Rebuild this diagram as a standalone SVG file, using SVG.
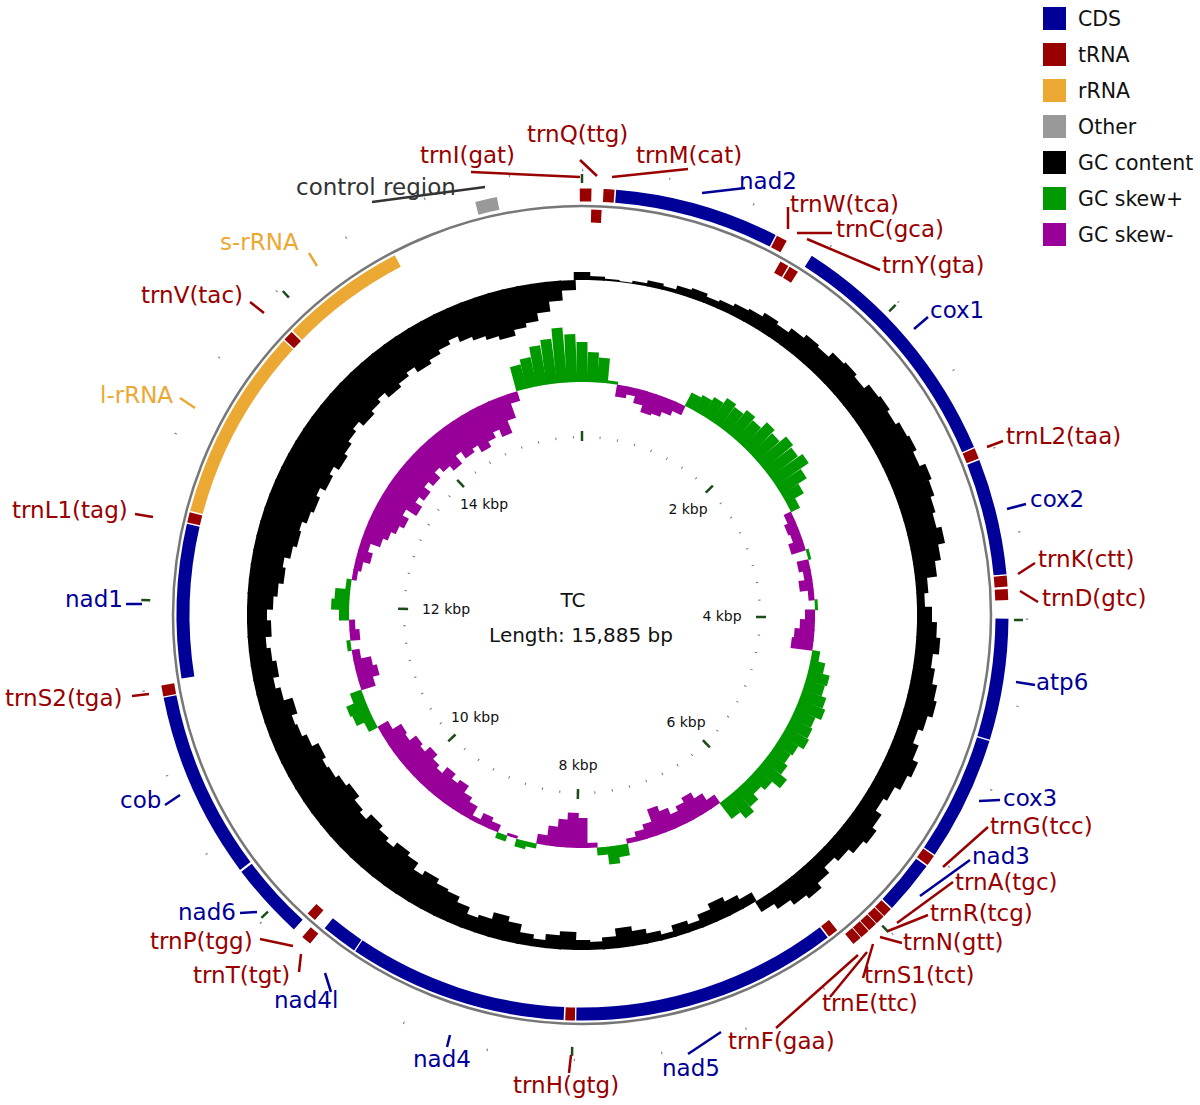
<svg xmlns="http://www.w3.org/2000/svg" width="1200" height="1105" viewBox="0 0 1200 1105">
<style>
text{font-family:"DejaVu Sans","Liberation Sans",sans-serif;font-size:23px}
.t{fill:#990000}.c{fill:#000099}.r{fill:#eba934}.o{fill:#333}
.lt{stroke:#990000;stroke-width:2.5}.lc{stroke:#000099;stroke-width:2.5}.lr{stroke:#eba934;stroke-width:2.5}.lo{stroke:#333;stroke-width:2.5}
.fo{fill:none;stroke-width:13}
.k{font-size:14px;fill:#111;text-anchor:middle}
.g path{stroke:#000;stroke-width:16.5}
.sp{stroke:#009900;stroke-width:11}.sm{stroke:#990099;stroke-width:11}
.tk{stroke:#1b4d1b;stroke-width:2.5}
.lg{font-size:20.5px;fill:#111}
</style>
<rect width="1200" height="1105" fill="#fff"/>
<g id="gc-content" class="g">
<path d="M582 280V272" transform="rotate(0 582 615)"/><path d="M582 280V276" transform="rotate(2.5 582 615)"/><path d="M582 280V278" transform="rotate(5 582 615)"/><path d="M582 280V279" transform="rotate(7.5 582 615)"/>
<path d="M582 280V277" transform="rotate(10 582 615)"/><path d="M582 280V274" transform="rotate(12.5 582 615)"/><path d="M582 280V276" transform="rotate(15 582 615)"/><path d="M582 280V272" transform="rotate(17.5 582 615)"/><path d="M582 280V270" transform="rotate(20 582 615)"/><path d="M582 280V273" transform="rotate(22.5 582 615)"/><path d="M582 280V271" transform="rotate(25 582 615)"/><path d="M582 280V268" transform="rotate(27.5 582 615)"/>
<path d="M582 280V266" transform="rotate(30 582 615)"/><path d="M582 280V262" transform="rotate(32.5 582 615)"/><path d="M582 280V265" transform="rotate(35 582 615)"/><path d="M582 280V260" transform="rotate(37.5 582 615)"/><path d="M582 280V256" transform="rotate(40 582 615)"/><path d="M582 280V258" transform="rotate(42.5 582 615)"/><path d="M582 280V252" transform="rotate(45 582 615)"/><path d="M582 280V250" transform="rotate(47.5 582 615)"/><path d="M582 280V253" transform="rotate(50 582 615)"/><path d="M582 280V247" transform="rotate(52.5 582 615)"/><path d="M582 280V245" transform="rotate(55 582 615)"/><path d="M582 280V248" transform="rotate(57.5 582 615)"/>
<path d="M582 280V244" transform="rotate(60 582 615)"/><path d="M582 280V242" transform="rotate(62.5 582 615)"/><path d="M582 280V246" transform="rotate(65 582 615)"/><path d="M582 280V240" transform="rotate(67.5 582 615)"/><path d="M582 280V243" transform="rotate(70 582 615)"/><path d="M582 280V247" transform="rotate(72.5 582 615)"/><path d="M582 280V250" transform="rotate(75 582 615)"/><path d="M582 280V245" transform="rotate(77.5 582 615)"/><path d="M582 280V252" transform="rotate(80 582 615)"/><path d="M582 280V258" transform="rotate(82.5 582 615)"/><path d="M582 280V268" transform="rotate(85 582 615)"/><path d="M582 280V272" transform="rotate(87.5 582 615)"/>
<path d="M582 280V265" transform="rotate(90 582 615)"/><path d="M582 280V260" transform="rotate(92.5 582 615)"/><path d="M582 280V256" transform="rotate(95 582 615)"/><path d="M582 280V262" transform="rotate(97.5 582 615)"/><path d="M582 280V258" transform="rotate(100 582 615)"/><path d="M582 280V253" transform="rotate(102.5 582 615)"/><path d="M582 280V250" transform="rotate(105 582 615)"/><path d="M582 280V255" transform="rotate(107.5 582 615)"/><path d="M582 280V260" transform="rotate(110 582 615)"/><path d="M582 280V254" transform="rotate(112.5 582 615)"/><path d="M582 280V248" transform="rotate(115 582 615)"/><path d="M582 280V252" transform="rotate(117.5 582 615)"/>
<path d="M582 280V258" transform="rotate(120 582 615)"/><path d="M582 280V262" transform="rotate(122.5 582 615)"/><path d="M582 280V255" transform="rotate(125 582 615)"/><path d="M582 280V250" transform="rotate(127.5 582 615)"/><path d="M582 280V254" transform="rotate(130 582 615)"/><path d="M582 280V260" transform="rotate(132.5 582 615)"/><path d="M582 280V265" transform="rotate(135 582 615)"/><path d="M582 280V258" transform="rotate(137.5 582 615)"/><path d="M582 280V252" transform="rotate(140 582 615)"/><path d="M582 280V256" transform="rotate(142.5 582 615)"/><path d="M582 280V262" transform="rotate(145 582 615)"/><path d="M582 280V268" transform="rotate(147.5 582 615)"/>
<path d="M582 280V290" transform="rotate(150 582 615)"/><path d="M582 280V295" transform="rotate(152.5 582 615)"/><path d="M582 280V300" transform="rotate(155 582 615)"/><path d="M582 280V294" transform="rotate(157.5 582 615)"/><path d="M582 280V288" transform="rotate(160 582 615)"/><path d="M582 280V292" transform="rotate(162.5 582 615)"/><path d="M582 280V286" transform="rotate(165 582 615)"/><path d="M582 280V290" transform="rotate(167.5 582 615)"/><path d="M582 280V295" transform="rotate(170 582 615)"/><path d="M582 280V300" transform="rotate(172.5 582 615)"/><path d="M582 280V292" transform="rotate(175 582 615)"/><path d="M582 280V288" transform="rotate(177.5 582 615)"/>
<path d="M582 280V290" transform="rotate(180 582 615)"/><path d="M582 280V298" transform="rotate(182.5 582 615)"/><path d="M582 280V294" transform="rotate(185 582 615)"/><path d="M582 280V288" transform="rotate(187.5 582 615)"/><path d="M582 280V292" transform="rotate(190 582 615)"/><path d="M582 280V300" transform="rotate(192.5 582 615)"/><path d="M582 280V305" transform="rotate(195 582 615)"/><path d="M582 280V298" transform="rotate(197.5 582 615)"/><path d="M582 280V295" transform="rotate(200 582 615)"/><path d="M582 280V302" transform="rotate(202.5 582 615)"/><path d="M582 280V308" transform="rotate(205 582 615)"/><path d="M582 280V310" transform="rotate(207.5 582 615)"/>
<path d="M582 280V315" transform="rotate(210 582 615)"/><path d="M582 280V310" transform="rotate(212.5 582 615)"/><path d="M582 280V318" transform="rotate(215 582 615)"/><path d="M582 280V322" transform="rotate(217.5 582 615)"/><path d="M582 280V316" transform="rotate(220 582 615)"/><path d="M582 280V320" transform="rotate(222.5 582 615)"/><path d="M582 280V325" transform="rotate(225 582 615)"/><path d="M582 280V318" transform="rotate(227.5 582 615)"/><path d="M582 280V322" transform="rotate(230 582 615)"/><path d="M582 280V328" transform="rotate(232.5 582 615)"/><path d="M582 280V324" transform="rotate(235 582 615)"/><path d="M582 280V320" transform="rotate(237.5 582 615)"/>
<path d="M582 280V318" transform="rotate(240 582 615)"/><path d="M582 280V322" transform="rotate(242.5 582 615)"/><path d="M582 280V315" transform="rotate(245 582 615)"/><path d="M582 280V310" transform="rotate(247.5 582 615)"/><path d="M582 280V308" transform="rotate(250 582 615)"/><path d="M582 280V314" transform="rotate(252.5 582 615)"/><path d="M582 280V305" transform="rotate(255 582 615)"/><path d="M582 280V300" transform="rotate(257.5 582 615)"/><path d="M582 280V306" transform="rotate(260 582 615)"/><path d="M582 280V302" transform="rotate(262.5 582 615)"/><path d="M582 280V298" transform="rotate(265 582 615)"/><path d="M582 280V304" transform="rotate(267.5 582 615)"/>
<path d="M582 280V300" transform="rotate(270 582 615)"/><path d="M582 280V306" transform="rotate(272.5 582 615)"/><path d="M582 280V310" transform="rotate(275 582 615)"/><path d="M582 280V315" transform="rotate(277.5 582 615)"/><path d="M582 280V312" transform="rotate(280 582 615)"/><path d="M582 280V318" transform="rotate(282.5 582 615)"/><path d="M582 280V322" transform="rotate(285 582 615)"/><path d="M582 280V320" transform="rotate(287.5 582 615)"/><path d="M582 280V325" transform="rotate(290 582 615)"/><path d="M582 280V328" transform="rotate(292.5 582 615)"/><path d="M582 280V324" transform="rotate(295 582 615)"/><path d="M582 280V330" transform="rotate(297.5 582 615)"/>
<path d="M582 280V326" transform="rotate(300 582 615)"/><path d="M582 280V332" transform="rotate(302.5 582 615)"/><path d="M582 280V328" transform="rotate(305 582 615)"/><path d="M582 280V324" transform="rotate(307.5 582 615)"/><path d="M582 280V320" transform="rotate(310 582 615)"/><path d="M582 280V326" transform="rotate(312.5 582 615)"/><path d="M582 280V322" transform="rotate(315 582 615)"/><path d="M582 280V318" transform="rotate(317.5 582 615)"/><path d="M582 280V324" transform="rotate(320 582 615)"/><path d="M582 280V320" transform="rotate(322.5 582 615)"/><path d="M582 280V316" transform="rotate(325 582 615)"/><path d="M582 280V322" transform="rotate(327.5 582 615)"/>
<path d="M582 280V318" transform="rotate(330 582 615)"/><path d="M582 280V314" transform="rotate(332.5 582 615)"/><path d="M582 280V310" transform="rotate(335 582 615)"/><path d="M582 280V316" transform="rotate(337.5 582 615)"/><path d="M582 280V320" transform="rotate(340 582 615)"/><path d="M582 280V324" transform="rotate(342.5 582 615)"/><path d="M582 280V328" transform="rotate(345 582 615)"/><path d="M582 280V322" transform="rotate(347.5 582 615)"/><path d="M582 280V318" transform="rotate(350 582 615)"/><path d="M582 280V310" transform="rotate(352.5 582 615)"/><path d="M582 280V300" transform="rotate(355 582 615)"/><path d="M582 280V290" transform="rotate(357.5 582 615)"/>
</g>
<g id="gc-skew">
<path class="sp" d="M582 382V342" transform="rotate(0 582 615)"/><path class="sp" d="M582 382V352" transform="rotate(2.5 582 615)"/><path class="sp" d="M582 382V357" transform="rotate(5 582 615)"/><path class="sp" d="M582 382V379" transform="rotate(7.5 582 615)"/>
<path class="sm" d="M582 382V394" transform="rotate(10 582 615)"/><path class="sm" d="M582 382V390" transform="rotate(12.5 582 615)"/><path class="sm" d="M582 382V397" transform="rotate(15 582 615)"/><path class="sm" d="M582 382V404" transform="rotate(17.5 582 615)"/><path class="sm" d="M582 382V402" transform="rotate(20 582 615)"/><path class="sm" d="M582 382V397" transform="rotate(22.5 582 615)"/><path class="sm" d="M582 382V392" transform="rotate(25 582 615)"/><path class="sp" d="M582 382V367" transform="rotate(27.5 582 615)"/>
<path class="sp" d="M582 382V364" transform="rotate(30 582 615)"/><path class="sp" d="M582 382V360" transform="rotate(32.5 582 615)"/><path class="sp" d="M582 382V354" transform="rotate(35 582 615)"/><path class="sp" d="M582 382V357" transform="rotate(37.5 582 615)"/><path class="sp" d="M582 382V352" transform="rotate(40 582 615)"/><path class="sp" d="M582 382V356" transform="rotate(42.5 582 615)"/><path class="sp" d="M582 382V348" transform="rotate(45 582 615)"/><path class="sp" d="M582 382V352" transform="rotate(47.5 582 615)"/><path class="sp" d="M582 382V344" transform="rotate(50 582 615)"/><path class="sp" d="M582 382V347" transform="rotate(52.5 582 615)"/><path class="sp" d="M582 382V342" transform="rotate(55 582 615)"/><path class="sp" d="M582 382V352" transform="rotate(57.5 582 615)"/>
<path class="sp" d="M582 382V362" transform="rotate(60 582 615)"/><path class="sp" d="M582 382V372" transform="rotate(62.5 582 615)"/><path class="sm" d="M582 382V390" transform="rotate(65 582 615)"/><path class="sm" d="M582 382V394" transform="rotate(67.5 582 615)"/><path class="sm" d="M582 382V392" transform="rotate(70 582 615)"/><path class="sm" d="M582 382V397" transform="rotate(72.5 582 615)"/><path class="sp" d="M582 382V379" transform="rotate(75 582 615)"/><path class="sm" d="M582 382V394" transform="rotate(77.5 582 615)"/><path class="sm" d="M582 382V390" transform="rotate(80 582 615)"/><path class="sm" d="M582 382V396" transform="rotate(82.5 582 615)"/><path class="sm" d="M582 382V388" transform="rotate(85 582 615)"/><path class="sp" d="M582 382V379" transform="rotate(87.5 582 615)"/>
<path class="sm" d="M582 382V392" transform="rotate(90 582 615)"/><path class="sm" d="M582 382V397" transform="rotate(92.5 582 615)"/><path class="sm" d="M582 382V402" transform="rotate(95 582 615)"/><path class="sm" d="M582 382V404" transform="rotate(97.5 582 615)"/><path class="sp" d="M582 382V374" transform="rotate(100 582 615)"/><path class="sp" d="M582 382V367" transform="rotate(102.5 582 615)"/><path class="sp" d="M582 382V360" transform="rotate(105 582 615)"/><path class="sp" d="M582 382V362" transform="rotate(107.5 582 615)"/><path class="sp" d="M582 382V357" transform="rotate(110 582 615)"/><path class="sp" d="M582 382V354" transform="rotate(112.5 582 615)"/><path class="sp" d="M582 382V360" transform="rotate(115 582 615)"/><path class="sp" d="M582 382V358" transform="rotate(117.5 582 615)"/>
<path class="sp" d="M582 382V356" transform="rotate(120 582 615)"/><path class="sp" d="M582 382V362" transform="rotate(122.5 582 615)"/><path class="sp" d="M582 382V364" transform="rotate(125 582 615)"/><path class="sp" d="M582 382V360" transform="rotate(127.5 582 615)"/><path class="sp" d="M582 382V352" transform="rotate(130 582 615)"/><path class="sp" d="M582 382V362" transform="rotate(132.5 582 615)"/><path class="sp" d="M582 382V367" transform="rotate(135 582 615)"/><path class="sp" d="M582 382V360" transform="rotate(137.5 582 615)"/><path class="sp" d="M582 382V354" transform="rotate(140 582 615)"/><path class="sp" d="M582 382V362" transform="rotate(142.5 582 615)"/><path class="sm" d="M582 382V392" transform="rotate(145 582 615)"/><path class="sm" d="M582 382V400" transform="rotate(147.5 582 615)"/>
<path class="sm" d="M582 382V407" transform="rotate(150 582 615)"/><path class="sm" d="M582 382V402" transform="rotate(152.5 582 615)"/><path class="sm" d="M582 382V397" transform="rotate(155 582 615)"/><path class="sm" d="M582 382V404" transform="rotate(157.5 582 615)"/><path class="sm" d="M582 382V410" transform="rotate(160 582 615)"/><path class="sm" d="M582 382V397" transform="rotate(162.5 582 615)"/><path class="sm" d="M582 382V392" transform="rotate(165 582 615)"/><path class="sm" d="M582 382V387" transform="rotate(167.5 582 615)"/><path class="sp" d="M582 382V370" transform="rotate(170 582 615)"/><path class="sp" d="M582 382V364" transform="rotate(172.5 582 615)"/><path class="sp" d="M582 382V374" transform="rotate(175 582 615)"/><path class="sm" d="M582 382V387" transform="rotate(177.5 582 615)"/>
<path class="sm" d="M582 382V412" transform="rotate(180 582 615)"/><path class="sm" d="M582 382V417" transform="rotate(182.5 582 615)"/><path class="sm" d="M582 382V410" transform="rotate(185 582 615)"/><path class="sm" d="M582 382V402" transform="rotate(187.5 582 615)"/><path class="sm" d="M582 382V392" transform="rotate(190 582 615)"/><path class="sp" d="M582 382V377" transform="rotate(192.5 582 615)"/><path class="sp" d="M582 382V374" transform="rotate(195 582 615)"/><path class="sm" d="M582 382V385" transform="rotate(197.5 582 615)"/><path class="sp" d="M582 382V376" transform="rotate(200 582 615)"/><path class="sm" d="M582 382V390" transform="rotate(202.5 582 615)"/><path class="sm" d="M582 382V394" transform="rotate(205 582 615)"/><path class="sm" d="M582 382V387" transform="rotate(207.5 582 615)"/>
<path class="sm" d="M582 382V397" transform="rotate(210 582 615)"/><path class="sm" d="M582 382V402" transform="rotate(212.5 582 615)"/><path class="sm" d="M582 382V410" transform="rotate(215 582 615)"/><path class="sm" d="M582 382V406" transform="rotate(217.5 582 615)"/><path class="sm" d="M582 382V412" transform="rotate(220 582 615)"/><path class="sm" d="M582 382V404" transform="rotate(222.5 582 615)"/><path class="sm" d="M582 382V408" transform="rotate(225 582 615)"/><path class="sm" d="M582 382V414" transform="rotate(227.5 582 615)"/><path class="sm" d="M582 382V407" transform="rotate(230 582 615)"/><path class="sm" d="M582 382V410" transform="rotate(232.5 582 615)"/><path class="sm" d="M582 382V402" transform="rotate(235 582 615)"/><path class="sm" d="M582 382V404" transform="rotate(237.5 582 615)"/>
<path class="sm" d="M582 382V394" transform="rotate(240 582 615)"/><path class="sp" d="M582 382V372" transform="rotate(242.5 582 615)"/><path class="sp" d="M582 382V364" transform="rotate(245 582 615)"/><path class="sp" d="M582 382V362" transform="rotate(247.5 582 615)"/><path class="sp" d="M582 382V370" transform="rotate(250 582 615)"/><path class="sm" d="M582 382V397" transform="rotate(252.5 582 615)"/><path class="sm" d="M582 382V404" transform="rotate(255 582 615)"/><path class="sm" d="M582 382V400" transform="rotate(257.5 582 615)"/><path class="sm" d="M582 382V390" transform="rotate(260 582 615)"/><path class="sp" d="M582 382V378" transform="rotate(262.5 582 615)"/><path class="sm" d="M582 382V392" transform="rotate(265 582 615)"/><path class="sm" d="M582 382V388" transform="rotate(267.5 582 615)"/>
<path class="sp" d="M582 382V372" transform="rotate(270 582 615)"/><path class="sp" d="M582 382V364" transform="rotate(272.5 582 615)"/><path class="sp" d="M582 382V367" transform="rotate(275 582 615)"/><path class="sp" d="M582 382V377" transform="rotate(277.5 582 615)"/><path class="sm" d="M582 382V387" transform="rotate(280 582 615)"/><path class="sm" d="M582 382V390" transform="rotate(282.5 582 615)"/><path class="sm" d="M582 382V397" transform="rotate(285 582 615)"/><path class="sm" d="M582 382V392" transform="rotate(287.5 582 615)"/><path class="sm" d="M582 382V402" transform="rotate(290 582 615)"/><path class="sm" d="M582 382V407" transform="rotate(292.5 582 615)"/><path class="sm" d="M582 382V412" transform="rotate(295 582 615)"/><path class="sm" d="M582 382V417" transform="rotate(297.5 582 615)"/>
<path class="sm" d="M582 382V410" transform="rotate(300 582 615)"/><path class="sm" d="M582 382V422" transform="rotate(302.5 582 615)"/><path class="sm" d="M582 382V414" transform="rotate(305 582 615)"/><path class="sm" d="M582 382V420" transform="rotate(307.5 582 615)"/><path class="sm" d="M582 382V412" transform="rotate(310 582 615)"/><path class="sm" d="M582 382V418" transform="rotate(312.5 582 615)"/><path class="sm" d="M582 382V410" transform="rotate(315 582 615)"/><path class="sm" d="M582 382V416" transform="rotate(317.5 582 615)"/><path class="sm" d="M582 382V422" transform="rotate(320 582 615)"/><path class="sm" d="M582 382V412" transform="rotate(322.5 582 615)"/><path class="sm" d="M582 382V420" transform="rotate(325 582 615)"/><path class="sm" d="M582 382V416" transform="rotate(327.5 582 615)"/>
<path class="sm" d="M582 382V424" transform="rotate(330 582 615)"/><path class="sm" d="M582 382V418" transform="rotate(332.5 582 615)"/><path class="sm" d="M582 382V412" transform="rotate(335 582 615)"/><path class="sm" d="M582 382V420" transform="rotate(337.5 582 615)"/><path class="sm" d="M582 382V407" transform="rotate(340 582 615)"/><path class="sm" d="M582 382V392" transform="rotate(342.5 582 615)"/><path class="sp" d="M582 382V357" transform="rotate(345 582 615)"/><path class="sp" d="M582 382V352" transform="rotate(347.5 582 615)"/><path class="sp" d="M582 382V342" transform="rotate(350 582 615)"/><path class="sp" d="M582 382V337" transform="rotate(352.5 582 615)"/><path class="sp" d="M582 382V327" transform="rotate(355 582 615)"/><path class="sp" d="M582 382V334" transform="rotate(357.5 582 615)"/>
</g>
<g id="scale">
<circle cx="582" cy="615" r="178" fill="none" stroke="#777" stroke-width="2.5" stroke-dasharray="1 16.6" transform="rotate(-90 582 615)"/>
<circle cx="582" cy="615" r="445" fill="none" stroke="#888" stroke-width="2.5" stroke-dasharray="1.2 86.6" transform="rotate(-90 582 615)"/>
<g class="tk">
<path d="M582 431V441"/><path d="M582 431V441" transform="rotate(45.33 582 615)"/><path d="M582 431V441" transform="rotate(90.65 582 615)"/><path d="M582 431V441" transform="rotate(135.98 582 615)"/><path d="M582 431V441" transform="rotate(181.3 582 615)"/><path d="M582 431V441" transform="rotate(226.63 582 615)"/><path d="M582 431V441" transform="rotate(271.96 582 615)"/><path d="M582 431V441" transform="rotate(317.28 582 615)"/>
<path d="M582 174V183"/><path d="M582 174V183" transform="rotate(45.33 582 615)"/><path d="M582 174V183" transform="rotate(90.65 582 615)"/><path d="M582 174V183" transform="rotate(135.98 582 615)"/><path d="M582 174V183" transform="rotate(181.3 582 615)"/><path d="M582 174V183" transform="rotate(226.63 582 615)"/><path d="M582 174V183" transform="rotate(271.96 582 615)"/><path d="M582 174V183" transform="rotate(317.28 582 615)"/>
</g>
<text class="k" x="688" y="514">2 kbp</text><text class="k" x="722" y="621">4 kbp</text><text class="k" x="686" y="727">6 kbp</text><text class="k" x="578" y="770">8 kbp</text><text class="k" x="475" y="722">10 kbp</text><text class="k" x="446" y="614">12 kbp</text><text class="k" x="484" y="509">14 kbp</text>
<circle cx="582" cy="615" r="409" fill="none" stroke="#777" stroke-width="2.5"/>
</g>
<text x="573" y="607" text-anchor="middle" style="font-size:20px" fill="#111">TC</text>
<text x="581" y="642" text-anchor="middle" style="font-size:20px" fill="#111">Length: 15,885 bp</text>
<g id="connectors">
<line class="lo" x1="372" y1="202" x2="485" y2="187"/>
<line class="lt" x1="471" y1="172" x2="580" y2="177"/>
<line class="lt" x1="580" y1="160" x2="597" y2="176"/>
<line class="lt" x1="612" y1="177" x2="688" y2="169"/>
<line class="lc" x1="702" y1="193" x2="745" y2="188"/>
<line class="lt" x1="788" y1="207" x2="788" y2="229"/>
<line class="lt" x1="797" y1="233" x2="832" y2="233"/>
<line class="lt" x1="807" y1="239" x2="880" y2="270"/>
<line class="lc" x1="914" y1="329" x2="928" y2="317"/>
<line class="lt" x1="987" y1="447" x2="1003" y2="441"/>
<line class="lc" x1="1007" y1="509" x2="1026" y2="504"/>
<line class="lt" x1="1018" y1="574" x2="1035" y2="563"/>
<line class="lt" x1="1020" y1="591" x2="1038" y2="602"/>
<line class="lc" x1="1016" y1="682" x2="1035" y2="685"/>
<line class="lc" x1="979" y1="801" x2="1000" y2="800"/>
<line class="lt" x1="943" y1="867" x2="988" y2="827"/>
<line class="lc" x1="920" y1="896" x2="970" y2="860"/>
<line class="lt" x1="897" y1="923" x2="953" y2="882"/>
<line class="lt" x1="888" y1="931" x2="928" y2="915"/>
<line class="lt" x1="880" y1="937" x2="902" y2="943"/>
<line class="lt" x1="873" y1="944" x2="863" y2="978"/>
<line class="lt" x1="867" y1="952" x2="830" y2="997"/>
<line class="lt" x1="858" y1="955" x2="776" y2="1028"/>
<line class="lc" x1="721" y1="1032" x2="688" y2="1054"/>
<line class="lt" x1="571" y1="1055" x2="569" y2="1073"/>
<line class="lc" x1="450" y1="1035" x2="447" y2="1047"/>
<line class="lc" x1="325" y1="973" x2="331" y2="992"/>
<line class="lt" x1="301" y1="954" x2="299" y2="972"/>
<line class="lt" x1="260" y1="939" x2="293" y2="946"/>
<line class="lc" x1="240" y1="913" x2="257" y2="912"/>
<line class="lc" x1="165" y1="805" x2="180" y2="795"/>
<line class="lt" x1="132" y1="696" x2="149" y2="694"/>
<line class="lc" x1="126" y1="604" x2="142" y2="604"/>
<line class="lt" x1="135" y1="514" x2="153" y2="517"/>
<line class="lr" x1="180" y1="398" x2="195" y2="408"/>
<line class="lt" x1="250" y1="302" x2="264" y2="313"/>
<line class="lr" x1="309" y1="253" x2="317" y2="266"/>
</g>
<g id="control-region"><circle class="fo" cx="582" cy="615" r="420" stroke="#999" stroke-dasharray="22 3000" transform="rotate(255.5 582 615)"/><text class="o" x="296" y="195">control region</text></g>
<g id="trnI"><circle class="fo" cx="582" cy="615" r="420" stroke="#990000" stroke-dasharray="11.7 3000" transform="rotate(-90.3 582 615)"/><text class="t" x="420" y="163">trnI(gat)</text></g>
<g id="trnQ"><circle class="fo" cx="582" cy="615" r="399" stroke="#990000" stroke-dasharray="10.4 3000" transform="rotate(-88.7 582 615)"/><text class="t" x="527" y="142">trnQ(ttg)</text></g>
<g id="trnM"><circle class="fo" cx="582" cy="615" r="420" stroke="#990000" stroke-dasharray="11 3000" transform="rotate(-87.1 582 615)"/><text class="t" x="636" y="163">trnM(cat)</text></g>
<g id="nad2"><circle class="fo" cx="582" cy="615" r="420" stroke="#000099" stroke-dasharray="164.2 3000" transform="rotate(-85.4 582 615)"/><text class="c" x="739" y="189">nad2</text></g>
<g id="trnW"><circle class="fo" cx="582" cy="615" r="420" stroke="#990000" stroke-dasharray="11 3000" transform="rotate(-62.8 582 615)"/><text class="t" x="790" y="212">trnW(tca)</text></g>
<g id="trnC"><circle class="fo" cx="582" cy="615" r="399" stroke="#990000" stroke-dasharray="9.1 3000" transform="rotate(-60.7 582 615)"/><text class="t" x="836" y="237">trnC(gca)</text></g>
<g id="trnY"><circle class="fo" cx="582" cy="615" r="399" stroke="#990000" stroke-dasharray="9.7 3000" transform="rotate(-59.2 582 615)"/><text class="t" x="882" y="273">trnY(gta)</text></g>
<g id="cox1"><circle class="fo" cx="582" cy="615" r="420" stroke="#000099" stroke-dasharray="250.7 3000" transform="rotate(-57.4 582 615)"/><text class="c" x="930" y="318">cox1</text></g>
<g id="trnL2"><circle class="fo" cx="582" cy="615" r="420" stroke="#990000" stroke-dasharray="11 3000" transform="rotate(-23 582 615)"/><text class="t" x="1006" y="444">trnL2(taa)</text></g>
<g id="cox2"><circle class="fo" cx="582" cy="615" r="420" stroke="#000099" stroke-dasharray="115.8 3000" transform="rotate(-21.3 582 615)"/><text class="c" x="1030" y="507">cox2</text></g>
<g id="trnK"><circle class="fo" cx="582" cy="615" r="420" stroke="#990000" stroke-dasharray="11 3000" transform="rotate(-5.3 582 615)"/><text class="t" x="1038" y="567">trnK(ctt)</text></g>
<g id="trnD"><circle class="fo" cx="582" cy="615" r="420" stroke="#990000" stroke-dasharray="11 3000" transform="rotate(-3.5 582 615)"/><text class="t" x="1042" y="606">trnD(gtc)</text></g>
<g id="atp6"><circle class="fo" cx="582" cy="615" r="420" stroke="#000099" stroke-dasharray="121 3000" transform="rotate(0.5 582 615)"/><text class="c" x="1036" y="690">atp6</text></g>
<g id="cox3"><circle class="fo" cx="582" cy="615" r="420" stroke="#000099" stroke-dasharray="124.6 3000" transform="rotate(17.2 582 615)"/><text class="c" x="1003" y="806">cox3</text></g>
<g id="trnG"><circle class="fo" cx="582" cy="615" r="420" stroke="#990000" stroke-dasharray="11 3000" transform="rotate(34.4 582 615)"/><text class="t" x="990" y="834">trnG(tcc)</text></g>
<g id="nad3"><circle class="fo" cx="582" cy="615" r="420" stroke="#000099" stroke-dasharray="53.5 3000" transform="rotate(36.1 582 615)"/><text class="c" x="972" y="864">nad3</text></g>
<g id="trnA"><circle class="fo" cx="582" cy="615" r="420" stroke="#990000" stroke-dasharray="9.5 3000" transform="rotate(43.6 582 615)"/><text class="t" x="955" y="890">trnA(tgc)</text></g>
<g id="trnR"><circle class="fo" cx="582" cy="615" r="420" stroke="#990000" stroke-dasharray="9.5 3000" transform="rotate(45 582 615)"/><text class="t" x="930" y="921">trnR(tcg)</text></g>
<g id="trnN"><circle class="fo" cx="582" cy="615" r="420" stroke="#990000" stroke-dasharray="9.5 3000" transform="rotate(46.4 582 615)"/><text class="t" x="903" y="950">trnN(gtt)</text></g>
<g id="trnS1"><circle class="fo" cx="582" cy="615" r="420" stroke="#990000" stroke-dasharray="9.5 3000" transform="rotate(47.8 582 615)"/><text class="t" x="864" y="983">trnS1(tct)</text></g>
<g id="trnE"><circle class="fo" cx="582" cy="615" r="420" stroke="#990000" stroke-dasharray="9.5 3000" transform="rotate(49.2 582 615)"/><text class="t" x="822" y="1011">trnE(ttc)</text></g>
<g id="trnF"><circle class="fo" cx="582" cy="615" r="399" stroke="#990000" stroke-dasharray="10.4 3000" transform="rotate(51 582 615)"/><text class="t" x="728" y="1049">trnF(gaa)</text></g>
<g id="nad5"><circle class="fo" cx="582" cy="615" r="399" stroke="#000099" stroke-dasharray="265.3 3000" transform="rotate(52.7 582 615)"/><text class="c" x="662" y="1076">nad5</text></g>
<g id="trnH"><circle class="fo" cx="582" cy="615" r="399" stroke="#990000" stroke-dasharray="9.7 3000" transform="rotate(91 582 615)"/><text class="t" x="513" y="1093">trnH(gtg)</text></g>
<g id="nad4"><circle class="fo" cx="582" cy="615" r="399" stroke="#000099" stroke-dasharray="218.7 3000" transform="rotate(92.6 582 615)"/><text class="c" x="413" y="1067">nad4</text></g>
<g id="nad4l"><circle class="fo" cx="582" cy="615" r="399" stroke="#000099" stroke-dasharray="36.2 3000" transform="rotate(124.2 582 615)"/><text class="c" x="274" y="1008">nad4l</text></g>
<g id="trnT"><circle class="fo" cx="582" cy="615" r="420" stroke="#990000" stroke-dasharray="10.3 3000" transform="rotate(129.6 582 615)"/><text class="t" x="193" y="983">trnT(tgt)</text></g>
<g id="trnP"><circle class="fo" cx="582" cy="615" r="399" stroke="#990000" stroke-dasharray="9.7 3000" transform="rotate(131.2 582 615)"/><text class="t" x="150" y="949">trnP(tgg)</text></g>
<g id="nad6"><circle class="fo" cx="582" cy="615" r="420" stroke="#000099" stroke-dasharray="77 3000" transform="rotate(132.5 582 615)"/><text class="c" x="178" y="920">nad6</text></g>
<g id="cob"><circle class="fo" cx="582" cy="615" r="420" stroke="#000099" stroke-dasharray="186.9 3000" transform="rotate(143.3 582 615)"/><text class="c" x="120" y="808">cob</text></g>
<g id="trnS2"><circle class="fo" cx="582" cy="615" r="420" stroke="#990000" stroke-dasharray="11 3000" transform="rotate(169 582 615)"/><text class="t" x="5" y="706">trnS2(tga)</text></g>
<g id="nad1"><circle class="fo" cx="582" cy="615" r="399" stroke="#000099" stroke-dasharray="153.2 3000" transform="rotate(171 582 615)"/><text class="c" x="65" y="607">nad1</text></g>
<g id="trnL1"><circle class="fo" cx="582" cy="615" r="399" stroke="#990000" stroke-dasharray="10.4 3000" transform="rotate(193.2 582 615)"/><text class="t" x="12" y="518">trnL1(tag)</text></g>
<g id="l-rRNA"><circle class="fo" cx="582" cy="615" r="399" stroke="#eba934" stroke-dasharray="192.9 3000" transform="rotate(194.9 582 615)"/><text class="r" x="100" y="403">l-rRNA</text></g>
<g id="trnV"><circle class="fo" cx="582" cy="615" r="399" stroke="#990000" stroke-dasharray="10.4 3000" transform="rotate(222.8 582 615)"/><text class="t" x="141" y="303">trnV(tac)</text></g>
<g id="s-rRNA"><circle class="fo" cx="582" cy="615" r="399" stroke="#eba934" stroke-dasharray="125.4 3000" transform="rotate(224.5 582 615)"/><text class="r" x="220" y="250">s-rRNA</text></g>
<g id="legend">
<rect x="1043" y="7" width="23" height="23" fill="#000099"/><text class="lg" x="1078" y="26">CDS</text>
<rect x="1043" y="43" width="23" height="23" fill="#990000"/><text class="lg" x="1078" y="62">tRNA</text>
<rect x="1043" y="79" width="23" height="23" fill="#eba934"/><text class="lg" x="1078" y="98">rRNA</text>
<rect x="1043" y="115" width="23" height="23" fill="#999"/><text class="lg" x="1078" y="134">Other</text>
<rect x="1043" y="151" width="23" height="23" fill="#000"/><text class="lg" x="1078" y="170">GC content</text>
<rect x="1043" y="187" width="23" height="23" fill="#009900"/><text class="lg" x="1078" y="206">GC skew+</text>
<rect x="1043" y="223" width="23" height="23" fill="#990099"/><text class="lg" x="1078" y="242">GC skew-</text>
</g>
</svg>
